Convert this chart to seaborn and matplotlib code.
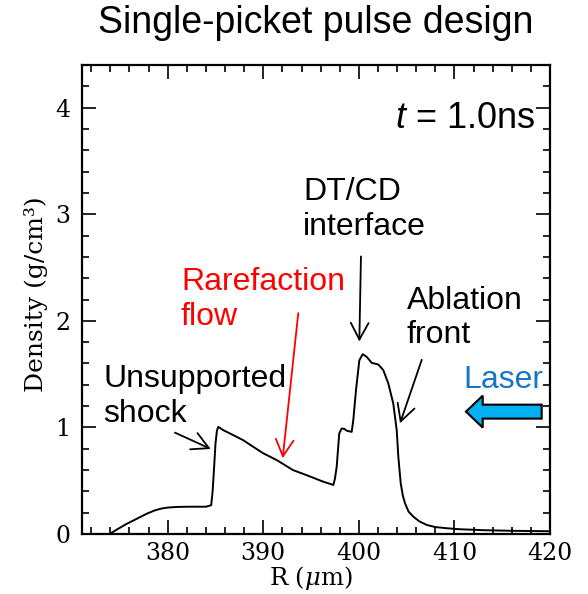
import matplotlib
matplotlib.use("Agg")
import matplotlib.pyplot as plt
from matplotlib.ticker import MultipleLocator
import seaborn as sns
import pandas as pd

# Mass density versus radius at t = 1.0 ns
radius_um = [371.0, 373.9, 374.8, 375.7, 376.7, 377.8, 378.6, 379.3, 380.0, 381.0,
             382.3, 384.0, 384.55, 384.7, 384.85, 385.0, 385.15, 385.3, 385.8, 387.2,
             387.9, 389.0, 390.0, 391.4, 393.1, 394.5, 396.3, 397.0, 397.33, 397.5,
             397.68, 397.95, 398.2, 398.5, 398.73, 399.25, 399.42, 399.7, 400.05, 400.4,
             400.82, 401.34, 402.04, 402.56, 403.08, 403.6, 403.96, 404.13, 404.38, 404.6,
             404.83, 405.2, 405.7, 406.3, 407.1, 408.0, 409.2, 410.5, 413.0, 416.0,
             420.0]
density_gcc = [0.0, 0.0, 0.048, 0.095, 0.14, 0.19, 0.22, 0.238, 0.248, 0.254,
               0.256, 0.256, 0.27, 0.4, 0.62, 0.85, 0.97, 1.005, 0.975, 0.912,
               0.88, 0.815, 0.757, 0.694, 0.6, 0.553, 0.49, 0.47, 0.46, 0.52,
               0.63, 0.944, 0.99, 0.985, 0.969, 0.958, 1.07, 1.35, 1.63, 1.687,
               1.662, 1.606, 1.59, 1.537, 1.413, 1.225, 0.975, 0.725, 0.476, 0.36,
               0.288, 0.21, 0.163, 0.12, 0.085, 0.065, 0.054, 0.045, 0.036, 0.03,
               0.026]

x_ticks = [380, 390, 400, 410, 420]
y_ticks = [0, 1, 2, 3, 4]

sns.set_style("ticks")
plt.rcParams["font.family"] = ["DejaVu Serif"]
plt.rcParams["mathtext.fontset"] = "custom"
plt.rcParams["mathtext.rm"] = "Liberation Sans"
plt.rcParams["mathtext.it"] = "Liberation Sans:italic"
for key in ("text.color", "axes.labelcolor", "xtick.color", "ytick.color",
            "axes.edgecolor"):
    plt.rcParams[key] = "black"

SANS = "Liberation Sans"

fig = plt.figure(figsize=(5.88, 5.94), dpi=100)
ax = fig.add_axes([81.7 / 588, 1 - 534 / 594, 468.3 / 588, 469 / 594])

df = pd.DataFrame({"R": radius_um, "rho": density_gcc})
sns.lineplot(data=df, x="R", y="rho", ax=ax, color="black", linewidth=1.4,
             sort=False, estimator=None)

ax.set_xlim(371.0, 420)
ax.set_ylim(0, 4.4)
ax.set_xticks(x_ticks)
ax.set_yticks(y_ticks)
ax.xaxis.set_minor_locator(MultipleLocator(2))
ax.yaxis.set_minor_locator(MultipleLocator(0.2))
ax.tick_params(which="both", direction="in", top=True, right=True,
               width=1.2, color="black", labelcolor="black", labelsize=17)
ax.tick_params(which="major", length=10)
ax.tick_params(which="minor", length=5)
ax.tick_params(axis="x", pad=6)
ax.tick_params(axis="y", pad=8)
for sp in ax.spines.values():
    sp.set_visible(True)
    sp.set_linewidth(1.6)
    sp.set_color("black")

ax.set_xlabel(r"R ($\mu$m)", fontsize=17.5, math_fontfamily="dejavuserif")
ax.set_ylabel("Density (g/cm³)", fontsize=18)
ax.xaxis.set_label_coords(0.49, -0.063)
ax.yaxis.set_label_coords(-0.071, 0.512)

fig.text(316 / 588, 1 - 33 / 594, "Single-picket pulse design", ha="center",
         va="baseline", fontsize=27, family=SANS, color="black")

ax.text(418.43, 3.809, "$t$ = 1.0ns", ha="right", va="baseline",
        fontsize=26, family=SANS)

# va="baseline" anchors the last line of a two-line label
label_kw = dict(ha="left", va="baseline", fontsize=23, family=SANS)
ax.text(373.26, 1.054, "Unsupported\nshock", color="black", **label_kw)
ax.text(381.39, 1.962, "Rarefaction\nflow", color="#ff0000", **label_kw)
ax.text(394.19, 2.808, "DT/CD\ninterface", color="black", **label_kw)
ax.text(405.0, 1.79, "Ablation\nfront", color="black", **label_kw)
ax.text(410.93, 1.368, "Laser", color="#1a75c4", **label_kw)


def pointer(tail, head, color):
    ax.annotate("", xy=head, xytext=tail, xycoords="data", textcoords="data",
                arrowprops=dict(arrowstyle="->,head_length=0.6,head_width=0.32",
                                color=color, lw=1.3, shrinkA=0, shrinkB=0,
                                mutation_scale=20))


pointer((380.76, 0.951), (384.5, 0.798), "black")
pointer((393.66, 2.072), (392.03, 0.711), "#ff0000")
pointer((400.22, 2.604), (400.05, 1.806), "black")
pointer((406.58, 1.634), (404.31, 1.039), "black")

# Incoming laser direction
ax.arrow(419.13, 1.148, 411.21 - 419.13, 0, width=0.131, head_width=0.30,
         head_length=1.75, length_includes_head=True, facecolor="#00b0f0",
         edgecolor="black", linewidth=1.5, zorder=3)

fig.savefig("out.png", dpi=100)
